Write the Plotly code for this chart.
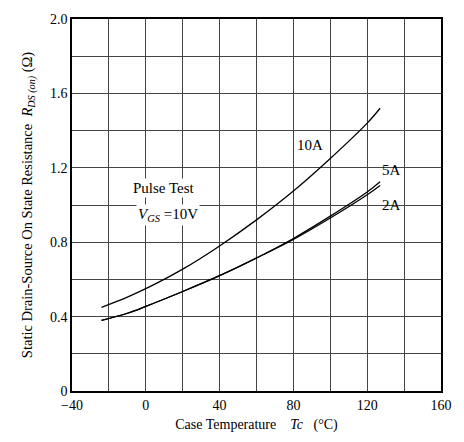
import plotly.graph_objects as go

temp = [-24, -10, 0, 20, 40, 60, 80, 100, 120, 127]
r_10a = [0.45, 0.505, 0.55, 0.655, 0.78, 0.92, 1.075, 1.25, 1.44, 1.52]
r_5a = [0.38, 0.418, 0.455, 0.535, 0.62, 0.715, 0.82, 0.94, 1.07, 1.125]
r_2a = [0.38, 0.418, 0.455, 0.535, 0.62, 0.715, 0.815, 0.93, 1.055, 1.105]

x_ticks = [-40, 0, 40, 80, 120, 160]
x_ticklabels = ["\u221240", "0", "40", "80", "120", "160"]
y_ticks = [0, 0.4, 0.8, 1.2, 1.6, 2.0]
y_ticklabels = ["0", "0.4", "0.8", "1.2", "1.6", "2.0"]

font = "Liberation Serif"
fig = go.Figure()
for ys in (r_10a, r_5a, r_2a):
    fig.add_trace(go.Scatter(x=temp, y=ys, mode="lines", line=dict(color="black", width=1.3, shape="spline", smoothing=1),
                             showlegend=False, hoverinfo="skip"))

ann = [
    (89, 1.32, "10A"),
    (133, 1.19, "5A"),
    (133, 1.00, "2A"),
    (10, 1.09, "Pulse Test"),
    (12, 0.945, "<i>V</i><sub><i>GS</i></sub> =10V"),
]
for x, y, t in ann:
    fig.add_annotation(x=x, y=y, text=t, showarrow=False, font=dict(family=font, size=15, color="black"),
                       bgcolor="white" if t.startswith(("Pulse", "<i>V")) else None)

grid = "#444"
fig.update_xaxes(range=[-40, 160], tickvals=x_ticks, ticktext=x_ticklabels, showgrid=True, gridcolor=grid, gridwidth=1,
                 minor=dict(dtick=20, tick0=-40, showgrid=True, gridcolor=grid, gridwidth=1),
                 showline=True, linecolor="black", linewidth=1.5, mirror=True, zeroline=False, ticks="",
                 tickfont=dict(family=font, size=14, color="black"),
                 title=dict(text="Case Temperature    <i>Tc</i>   (°C)", font=dict(family=font, size=14, color="black"), standoff=8))
fig.update_yaxes(range=[0, 2.0], tickvals=y_ticks, ticktext=y_ticklabels, showgrid=True, gridcolor=grid, gridwidth=1,
                 minor=dict(dtick=0.2, tick0=0, showgrid=True, gridcolor=grid, gridwidth=1),
                 showline=True, linecolor="black", linewidth=1.5, mirror=True, zeroline=False, ticks="",
                 tickfont=dict(family=font, size=14, color="black"),
                 title=dict(text="Static Drain-Source On State Resistance  <i>R</i><sub><i>DS (on)</i></sub> (Ω)",
                            font=dict(family=font, size=14.5, color="black"), standoff=14))
fig.update_layout(width=464, height=442, margin=dict(l=72, r=16, t=15, b=45),
                  plot_bgcolor="white", paper_bgcolor="white")
fig.write_html("out.html")
